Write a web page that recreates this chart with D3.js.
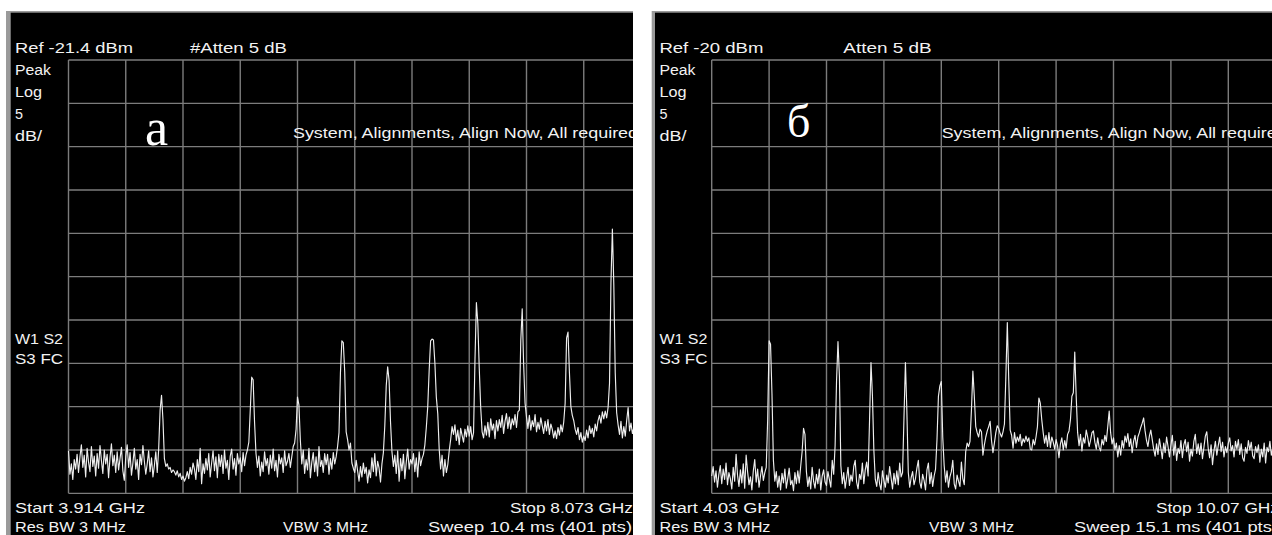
<!DOCTYPE html>
<html><head><meta charset="utf-8">
<script src="https://cdn.jsdelivr.net/npm/d3@7"></script>
<style>html,body{margin:0;padding:0;background:#fff;overflow:hidden}</style>
</head><body>
<svg id="c" width="1272" height="535"></svg>
<script>
// ---------- DATA ----------
// Panel "а": sweep settings and 401-point trace (dBm)
const startA = 3.914, stopA = 8.073, refA = -21.4;
const traceA = [
-66.5,-69.2,-68.0,-69.8,-67.5,-68.6,-66.9,-69.0,-67.2,-65.8,-68.4,-67.0,-69.5,-66.2,-67.8,-68.9,-66.0,-68.3,-67.1,-69.4,
-66.8,-68.5,-65.9,-67.6,-69.1,-66.4,-68.0,-66.9,-69.6,-67.3,-65.7,-68.2,-67.0,-69.0,-66.6,-68.7,-67.4,-66.1,-68.8,-69.9,
-67.2,-65.8,-68.4,-66.7,-69.3,-67.9,-66.2,-68.6,-67.5,-69.8,-66.9,-68.1,-65.9,-67.7,-69.2,-68.0,-66.5,-68.9,-67.3,-69.5,
-68.2,-66.6,-69.0,-66.3,-61.8,-60.1,-62.9,-67.4,-68.3,-68.0,-68.6,-68.4,-69.0,-68.7,-68.9,-69.3,-68.8,-69.5,-69.1,-69.8,
-69.4,-70.0,-69.6,-68.9,-69.7,-68.4,-69.2,-67.9,-68.6,-69.8,-67.5,-68.9,-66.2,-70.3,-68.0,-69.1,-67.4,-68.7,-66.8,-69.5,
-67.9,-66.5,-68.8,-67.2,-69.6,-66.9,-68.3,-67.0,-69.1,-66.4,-68.5,-67.6,-69.8,-67.1,-66.3,-68.6,-67.4,-69.3,-66.8,-68.0,
-67.3,-68.9,-66.7,-68.2,-67.0,-66.4,-65.5,-61.8,-58.0,-58.3,-63.2,-66.8,-68.4,-67.1,-69.4,-67.8,-68.9,-66.6,-68.2,-67.4,
-69.2,-67.0,-68.5,-66.3,-68.8,-67.6,-69.5,-66.9,-68.0,-67.3,-69.0,-66.5,-68.2,-67.7,-66.8,-68.4,-67.2,-66.0,-65.6,-64.0,
-60.3,-61.2,-65.3,-68.0,-66.4,-69.1,-67.5,-68.7,-66.2,-69.6,-67.8,-66.7,-68.9,-67.2,-69.4,-66.0,-68.3,-67.6,-69.0,-66.8,
-68.1,-66.9,-69.2,-67.4,-68.6,-66.7,-68.0,-67.2,-66.0,-64.4,-57.5,-53.8,-54.0,-57.4,-64.3,-65.2,-66.4,-65.6,-67.9,-68.5,
-69.0,-67.6,-68.8,-70.0,-68.3,-69.5,-67.9,-69.1,-68.4,-70.2,-68.7,-69.6,-67.3,-68.9,-66.8,-69.4,-67.7,-68.5,-70.1,-68.0,
-66.7,-63.6,-59.0,-56.8,-58.4,-63.2,-66.6,-68.3,-67.0,-69.1,-66.5,-70.0,-67.4,-68.8,-66.9,-69.7,-67.8,-66.3,-68.6,-67.5,
-68.0,-66.8,-68.9,-67.3,-69.5,-66.6,-68.2,-67.4,-66.9,-65.8,-63.8,-61.4,-57.2,-53.8,-53.6,-53.7,-56.4,-60.3,-62.2,-66.3,
-68.6,-67.0,-69.4,-67.5,-69.0,-68.1,-66.5,-65.2,-63.7,-64.6,-63.5,-65.3,-64.1,-65.8,-63.9,-64.7,-65.5,-64.0,-64.9,-63.6,
-64.8,-63.7,-65.2,-64.4,-56.0,-49.4,-51.8,-57.0,-61.5,-64.3,-65.0,-63.6,-64.7,-63.2,-64.9,-62.8,-64.1,-63.4,-65.1,-63.0,
-64.2,-62.9,-63.8,-62.4,-64.5,-63.1,-62.2,-63.9,-62.6,-64.0,-62.8,-63.5,-62.3,-63.8,-62.0,-61.8,-53.8,-50.1,-56.5,-61.0,
-62.6,-63.9,-62.4,-64.1,-63.0,-63.7,-62.3,-64.3,-63.2,-64.0,-62.7,-63.6,-64.5,-63.1,-64.2,-62.9,-64.6,-63.4,-64.0,-65.0,
-64.2,-65.1,-63.8,-64.7,-63.5,-64.3,-63.2,-61.0,-53.5,-52.8,-57.5,-61.4,-62.4,-63.0,-64.0,-64.6,-63.8,-65.2,-64.4,-65.5,
-64.8,-65.3,-64.1,-65.0,-63.6,-64.5,-63.9,-64.9,-63.4,-64.2,-63.0,-62.4,-63.3,-62.0,-62.8,-61.9,-62.7,-61.5,-58.7,-47.1,
-40.9,-47.3,-57.5,-62.1,-63.5,-64.6,-63.1,-65.0,-63.7,-64.8,-63.0,-61.5,-64.2,-63.3,-64.5,-63.8,-64.9,-63.6,-64.2,-63.9,
-64.5
];
const headerA = ["Ref -21.4 dBm", "#Atten 5 dB"];
const footerA = ["Start 3.914 GHz", "Stop 8.073 GHz", "Res BW 3 MHz", "VBW 3 MHz", "Sweep 10.4 ms (401 pts)"];
const tagA = "а";

// Panel "б"
const startB = 4.03, stopB = 10.07, refB = -20;
const traceB = [
-68.0,-66.9,-68.7,-67.4,-69.3,-67.8,-66.8,-68.9,-67.2,-68.4,-66.5,-69.0,-67.6,-68.3,-69.5,-67.0,-68.6,-65.5,-67.9,-69.2,
-67.3,-68.8,-66.6,-69.4,-65.6,-67.5,-69.0,-68.1,-69.6,-67.4,-66.1,-68.7,-67.2,-69.3,-68.0,-66.9,-68.5,-67.6,-67.0,-61.5,
-52.4,-52.8,-58.5,-66.2,-68.6,-67.5,-69.3,-68.0,-69.6,-67.7,-68.8,-67.2,-69.4,-68.3,-67.1,-69.0,-68.5,-69.7,-67.6,-68.9,
-67.4,-68.8,-66.9,-65.2,-62.5,-63.2,-67.5,-69.2,-68.1,-69.5,-67.0,-68.6,-69.4,-67.8,-68.9,-67.2,-69.6,-68.0,-67.3,-68.7,
-69.1,-67.5,-68.4,-69.3,-66.2,-67.8,-64.5,-57.0,-52.5,-56.5,-66.8,-68.9,-67.6,-69.4,-68.2,-67.0,-69.1,-67.9,-68.6,-66.9,
-66.2,-68.7,-69.5,-67.8,-68.4,-66.5,-68.9,-67.3,-66.4,-68.0,-61.5,-54.9,-58.7,-65.0,-68.4,-69.2,-67.6,-68.9,-69.6,-67.4,
-68.5,-69.3,-67.9,-68.8,-66.9,-68.2,-69.5,-67.7,-68.9,-67.4,-69.0,-66.5,-68.1,-67.6,-61.2,-54.9,-60.5,-67.6,-69.3,-68.2,
-67.5,-69.0,-68.3,-67.1,-66.2,-68.7,-69.4,-67.8,-68.5,-69.6,-67.3,-66.5,-68.9,-67.6,-69.2,-68.0,-67.2,-63.8,-58.8,-57.6,
-57.1,-63.5,-66.8,-68.7,-67.4,-69.3,-68.1,-67.5,-66.2,-68.9,-69.5,-67.9,-68.6,-69.2,-66.4,-68.3,-69.0,-65.2,-64.2,-64.6,
-64.0,-60.4,-55.9,-58.8,-62.3,-63.0,-63.5,-62.6,-62.9,-65.6,-64.4,-63.5,-62.8,-62.3,-61.7,-63.9,-65.3,-64.2,-63.0,-62.2,
-62.5,-63.1,-63.5,-62.9,-62.0,-56.5,-50.3,-56.9,-62.7,-63.3,-64.8,-63.0,-64.2,-63.5,-64.0,-63.2,-64.5,-63.7,-64.1,-63.4,
-64.0,-63.6,-64.9,-65.0,-63.8,-64.4,-63.5,-62.3,-59.0,-59.6,-61.5,-63.0,-64.2,-63.3,-64.6,-63.0,-64.7,-63.5,-64.1,-64.9,
-63.8,-64.5,-65.9,-64.3,-63.6,-65.0,-63.9,-64.8,-63.2,-62.8,-61.5,-58.8,-58.4,-53.7,-58.8,-63.0,-64.5,-63.2,-65.1,-63.6,
-64.2,-62.7,-63.5,-64.6,-63.9,-63.0,-62.8,-64.1,-64.9,-63.6,-64.7,-65.1,-63.8,-64.4,-63.3,-64.0,-62.3,-60.5,-63.0,-64.3,
-63.6,-65.0,-64.2,-65.8,-64.5,-65.6,-63.9,-64.8,-63.4,-64.1,-63.1,-64.6,-63.7,-65.3,-64.0,-63.3,-64.7,-63.5,-63.0,-62.4,
-61.9,-61.3,-62.8,-63.9,-64.6,-63.4,-62.7,-63.8,-64.9,-65.7,-64.3,-65.5,-63.7,-64.8,-66.0,-64.2,-65.3,-63.5,-64.6,-65.8,
-64.5,-63.3,-65.6,-64.0,-66.2,-64.8,-65.4,-63.9,-65.9,-64.4,-63.8,-65.2,-64.1,-66.3,-64.9,-65.7,-64.0,-63.2,-65.4,-64.3,
-65.5,-64.2,-66.0,-64.7,-63.4,-62.9,-64.8,-65.9,-64.4,-66.7,-65.1,-64.0,-65.6,-64.5,-63.5,-65.2,-64.1,-65.8,-64.6,-65.3,
-64.2,-63.6,-65.1,-64.5,-65.8,-64.0,-64.9,-63.8,-65.5,-64.3,-65.9,-66.3,-64.7,-65.4,-63.9,-65.0,-64.1,-65.7,-66.0,-64.6,
-65.3,-64.4,-66.4,-64.9,-65.8,-64.2,-66.5,-64.7,-65.2,-64.0,-65.6,-64.8,-65.4,-64.3,-65.9,-64.6,-65.1,-64.4,-65.7,-64.9,
-65.3
];
const headerB = ["Ref -20 dBm", "Atten 5 dB"];
const footerB = ["Start 4.03 GHz", "Stop 10.07 GHz", "Res BW 3 MHz", "VBW 3 MHz", "Sweep 15.1 ms (401 pts)"];
const tagB = "б";

// Shared annotation texts
const scaleLabels = ["Peak", "Log", "5", "dB/"];
const modeLabels = ["W1 S2", "S3 FC"];
const message = "System, Alignments, Align Now, All required";
const dbPerDiv = 5, nDiv = 10;

// ---------- LAYOUT ----------
const gridTop = 60, gridBottom = 493.33;
const row1 = 512.7, row2 = 532;
const panels = [
  { trace: traceA, start: startA, stop: stopA, ref: refA, header: headerA, footer: footerA, tag: tagA,
    x0: 10.7, x1: 633, bx: 6, gx: 68.5, gdx: 57.25, tx: 15,
    headerPos: [[15, 118], [190, 97]], msgPos: [293, 345],
    footerPos: [[15, row1, 130], [510, row1, 123], [15, row2, 111], [283, row2, 85], [428, row2, 204]],
    tagPos: [145, 145, 52] },
  { trace: traceB, start: startB, stop: stopB, ref: refB, header: headerB, footer: footerB, tag: tagB,
    x0: 655, x1: 1272, bx: 651.7, gx: 711.7, gdx: 57.4, tx: 659.4,
    headerPos: [[659.4, 104], [843.3, 88.4]], msgPos: [941.7, 345],
    footerPos: [[659.5, row1, 120], [1156, row1, 123], [659.5, row2, 111], [929, row2, 85], [1074, row2, 204]],
    tagPos: [787, 137, 46] }
];
const scaleW = [36, 27, 8, 27], scaleY = [75, 97, 119, 141];
const modeW = [48, 48], modeY = [343.5, 364];

const svg = d3.select("#c");
svg.append("rect").attr("width", 1272).attr("height", 535).attr("fill", "#fff");
const defs = svg.append("defs");
const FONT = "'Liberation Sans', Arial, sans-serif";

function txt(g, s, x, y, w, size) {
  const t = g.append("text").attr("x", x).attr("y", y).text(s)
    .attr("fill", "#f2f2f2").attr("font-family", FONT).attr("font-size", size || 15.5);
  if (w) t.attr("textLength", w).attr("lengthAdjust", "spacingAndGlyphs");
  return t;
}

panels.forEach((p, k) => {
  // frame
  svg.append("rect").attr("x", p.bx).attr("y", 11).attr("width", p.x1 - p.bx).attr("height", 535 - 11).attr("fill", "#9a9a9a");
  svg.append("rect").attr("x", p.x0).attr("y", 12.7).attr("width", p.x1 - p.x0).attr("height", 535 - 12.7).attr("fill", "#000");
  const cid = "clip" + k;
  defs.append("clipPath").attr("id", cid).append("rect")
    .attr("x", p.x0).attr("y", 12.7).attr("width", p.x1 - p.x0).attr("height", 535 - 12.7);
  const g = svg.append("g").attr("clip-path", `url(#${cid})`);

  const x = d3.scaleLinear().domain([p.start, p.stop]).range([p.gx, p.gx + nDiv * p.gdx]);
  const y = d3.scaleLinear().domain([p.ref - nDiv * dbPerDiv, p.ref]).range([gridBottom, gridTop]);

  // grid
  const span = p.stop - p.start;
  const xt = d3.range(nDiv + 1).map(i => p.start + i * span / nDiv);
  const yt = d3.range(nDiv + 1).map(i => p.ref - i * dbPerDiv);
  g.append("g").selectAll("line").data(xt).join("line")
    .attr("x1", d => x(d)).attr("x2", d => x(d)).attr("y1", gridTop).attr("y2", gridBottom)
    .attr("stroke", "#7c7c7c").attr("stroke-width", 1.4);
  g.append("g").selectAll("line").data(yt).join("line")
    .attr("x1", x(p.start)).attr("x2", x(p.stop)).attr("y1", d => y(d)).attr("y2", d => y(d))
    .attr("stroke", "#7c7c7c").attr("stroke-width", 1.4);

  // trace
  const n = p.trace.length;
  const line = d3.line().x((d, i) => x(p.start + i * span / (n - 1))).y(d => y(d));
  g.append("path").datum(p.trace).attr("d", line)
    .attr("fill", "none").attr("stroke", "#eeeeee").attr("stroke-width", 1.15).attr("stroke-linejoin", "round");

  // texts
  p.header.forEach((s, i) => txt(g, s, p.headerPos[i][0], 53, p.headerPos[i][1]));
  scaleLabels.forEach((s, i) => txt(g, s, p.tx, scaleY[i], scaleW[i]));
  modeLabels.forEach((s, i) => txt(g, s, p.tx, modeY[i], modeW[i]));
  txt(g, message, p.msgPos[0], 138, p.msgPos[1]);
  p.footer.forEach((s, i) => txt(g, s, p.footerPos[i][0], p.footerPos[i][1], p.footerPos[i][2]));
  g.append("text").attr("x", p.tagPos[0]).attr("y", p.tagPos[1]).text(p.tag)
    .attr("fill", "#fff").attr("font-family", "'Liberation Serif', 'Times New Roman', serif")
    .attr("font-size", p.tagPos[2]);
});
</script>
</body></html>
